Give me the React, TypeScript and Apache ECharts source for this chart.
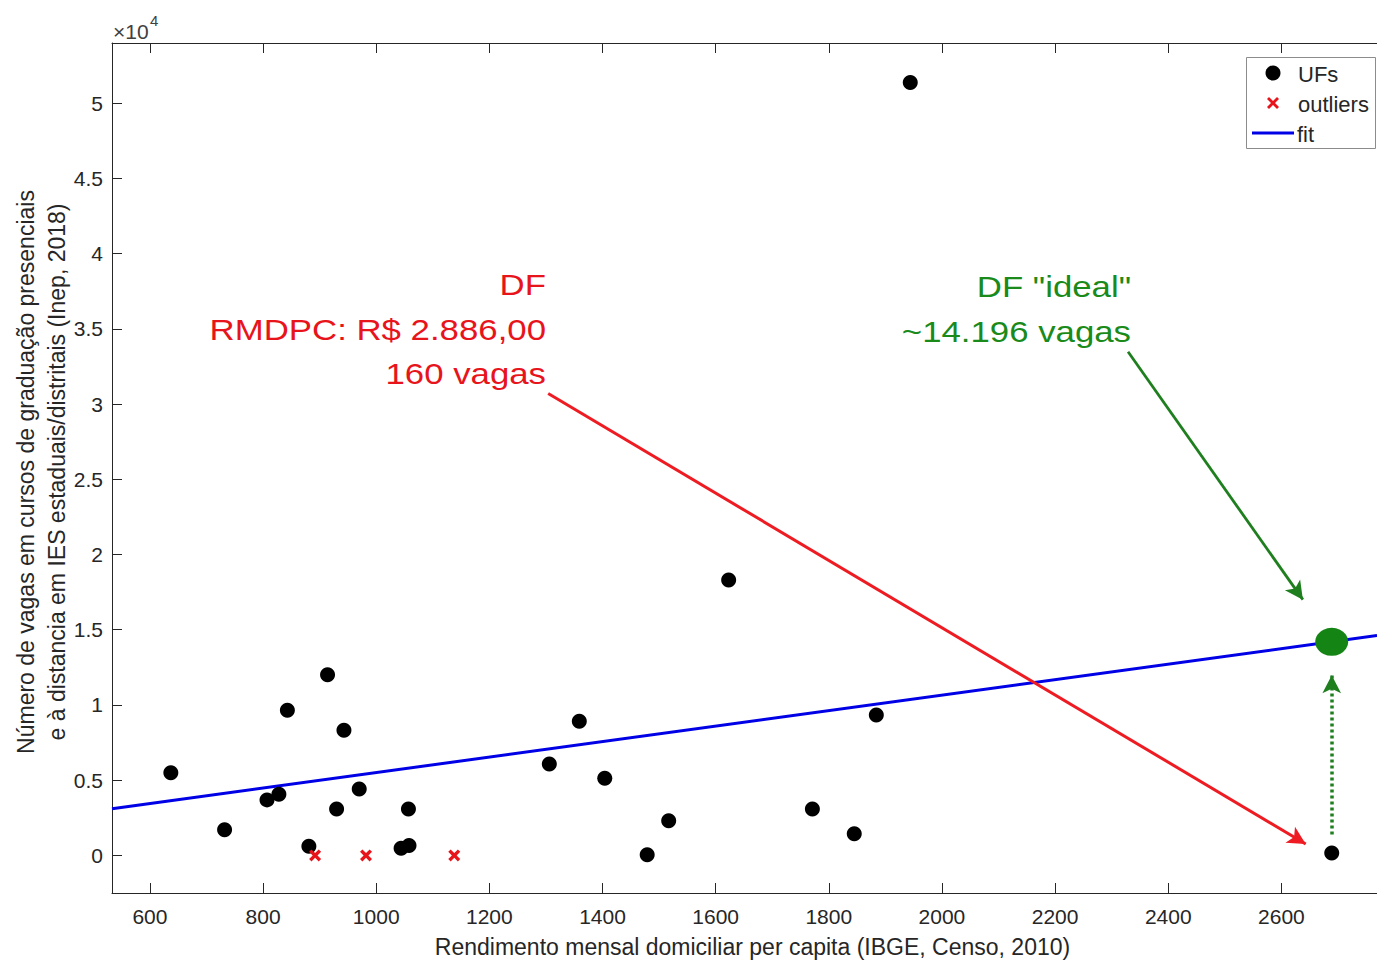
import React, { useEffect, useRef } from "react";
import * as echarts from "echarts";

// UFs (black dots): rendimento mensal domiciliar per capita vs. vagas
const ufX = [637, 732, 807, 828, 843, 881, 914, 930, 943, 970, 1044, 1058, 1057, 1306, 1359, 1404, 1479, 1517, 1623, 1771, 1845, 1884, 1944, 2689];
const ufY = [5490, 1700, 3690, 4060, 9640, 600, 12000, 3090, 8320, 4410, 480, 660, 3090, 6070, 8910, 5120, 50, 2300, 18310, 3090, 1440, 9330, 51370, 160];

// outliers (red crosses)
const outX = [892, 982, 1138];
const outY = [0, 0, 0];

// linear fit endpoints (axis limits)
const fitX = [533, 2769];
const fitY = [3100, 14610];

// DF "ideal" point
const idealX = [2689];
const idealY = [14196];

// annotation arrows [x0, y0, x1, y1] in data units
const redArrow = [1304, 30700, 2643, 760];
const greenArrow = [2329, 33480, 2638, 17000];
const dottedArrow = [2689, 1390, 2689, 11980];

const xTicks = [600, 800, 1000, 1200, 1400, 1600, 1800, 2000, 2200, 2400, 2600];
const yTicks = [0, 5000, 10000, 15000, 20000, 25000, 30000, 35000, 40000, 45000, 50000];

const FONT = "'Liberation Sans', Arial, Helvetica, sans-serif";
const AXIS = "#262626";
const RED = "#e8141c";
const GREEN = "#1a8a1a";

export default function App() {
  const ref = useRef<HTMLDivElement>(null);

  useEffect(() => {
    if (!ref.current) return;
    const chart = echarts.init(ref.current, null, { renderer: "svg" });

    const arrowLine = (a: number[], style: any) => [
      { coord: [a[0], a[1]], lineStyle: style },
      { coord: [a[2], a[3]] },
    ];

    const option: any = {
      animation: false,
      backgroundColor: "#ffffff",
      textStyle: { fontFamily: FONT },
      grid: { left: 112, top: 43, right: 0, bottom: 66, containLabel: false },
      xAxis: [
        {
          type: "value",
          min: 533,
          max: 2769,
          position: "bottom",
          name: "Rendimento mensal domiciliar per capita (IBGE, Censo, 2010)",
          nameLocation: "middle",
          nameGap: 42,
          nameTextStyle: { fontSize: 23, color: AXIS, fontFamily: FONT, padding: [0, 0, 0, 16] },
          splitLine: { show: false },
          axisLine: { show: true, onZero: false, lineStyle: { color: AXIS, width: 1 } },
          axisTick: { show: true, inside: true, length: 10, customValues: xTicks, lineStyle: { color: AXIS } },
          axisLabel: {
            show: true,
            margin: 13,
            fontSize: 21,
            color: AXIS,
            fontFamily: FONT,
            customValues: xTicks,
            formatter: (v: number) => String(v),
          },
        },
        {
          type: "value",
          min: 533,
          max: 2769,
          position: "top",
          splitLine: { show: false },
          axisLine: { show: true, onZero: false, lineStyle: { color: AXIS, width: 1 } },
          axisTick: { show: true, inside: true, length: 10, customValues: xTicks, lineStyle: { color: AXIS } },
          axisLabel: { show: false },
        },
      ],
      yAxis: [
        {
          type: "value",
          min: -2500,
          max: 54000,
          splitLine: { show: false },
          axisLine: { show: true, onZero: false, lineStyle: { color: AXIS, width: 1 } },
          axisTick: { show: true, inside: true, length: 10, customValues: yTicks, lineStyle: { color: AXIS } },
          axisLabel: {
            show: true,
            margin: 9,
            fontSize: 21,
            color: AXIS,
            fontFamily: FONT,
            customValues: yTicks,
            formatter: (v: number) => String(v / 10000),
          },
        },
      ],
      series: [
        {
          name: "fit",
          type: "line",
          data: fitX.map((x, i) => [x, fitY[i]]),
          showSymbol: false,
          symbol: "none",
          lineStyle: { color: "#0000e6", width: 3 },
          z: 2,
        },
        {
          name: "UFs",
          type: "scatter",
          data: ufX.map((x, i) => [x, ufY[i]]),
          symbol: "circle",
          symbolSize: 15,
          itemStyle: { color: "#000000", opacity: 1 },
          z: 3,
        },
        {
          name: "outliers",
          type: "scatter",
          data: outX.map((x, i) => [x, outY[i]]),
          symbol: "path://M0,2L2,0L5,3L8,0L10,2L7,5L10,8L8,10L5,7L2,10L0,8L3,5Z",
          symbolSize: 12,
          itemStyle: { color: RED, opacity: 1 },
          z: 3,
        },
        {
          name: "DF ideal",
          type: "scatter",
          data: idealX.map((x, i) => [x, idealY[i]]),
          symbol: "circle",
          symbolSize: [33, 28],
          itemStyle: { color: "#148414", opacity: 1 },
          z: 4,
          markLine: {
            silent: true,
            symbol: ["none", "arrow"],
            symbolSize: [14, 18],
            label: { show: false },
            emphasis: { disabled: true },
            data: [
              arrowLine(redArrow, { color: "#ee1c22", width: 3, type: "solid" }),
              arrowLine(greenArrow, { color: "#1f7f1f", width: 2.8, type: "solid" }),
              arrowLine(dottedArrow, { color: "#1f7f1f", width: 3.5, type: [3, 3] }),
            ],
          },
        },
      ],
      graphic: [
        // x10^4 exponent label
        { type: "text", x: 113, y: 31, style: { text: "×10", font: `21px ${FONT}`, fill: "#404040", textVerticalAlign: "middle" } },
        { type: "text", x: 150, y: 20, style: { text: "4", font: `15px ${FONT}`, fill: "#404040", textVerticalAlign: "middle" } },
        // y axis title
        {
          type: "text",
          x: 41,
          y: 472,
          rotation: Math.PI / 2,
          style: {
            text: "Número de vagas em cursos de graduação presenciais\ne à distancia em IES estaduais/distritais (Inep, 2018)",
            font: `23px ${FONT}`,
            lineHeight: 31,
            fill: AXIS,
            textAlign: "center",
            textVerticalAlign: "middle",
          },
        },
        // red annotation
        { type: "text", x: 546, y: 285, scaleX: 1.2, style: { text: "DF", font: `29px ${FONT}`, fill: RED, textAlign: "right", textVerticalAlign: "middle" } },
        { type: "text", x: 546, y: 330, scaleX: 1.2, style: { text: "RMDPC: R$ 2.886,00", font: `29px ${FONT}`, fill: RED, textAlign: "right", textVerticalAlign: "middle" } },
        { type: "text", x: 546, y: 374, scaleX: 1.2, style: { text: "160 vagas", font: `29px ${FONT}`, fill: RED, textAlign: "right", textVerticalAlign: "middle" } },
        // green annotation
        { type: "text", x: 1131, y: 287, scaleX: 1.2, style: { text: 'DF "ideal"', font: `29px ${FONT}`, fill: GREEN, textAlign: "right", textVerticalAlign: "middle" } },
        { type: "text", x: 1131, y: 332, scaleX: 1.2, style: { text: "~14.196 vagas", font: `29px ${FONT}`, fill: GREEN, textAlign: "right", textVerticalAlign: "middle" } },
        // legend
        {
          type: "group",
          children: [
            { type: "rect", shape: { x: 1246.5, y: 57.5, width: 129, height: 91 }, style: { fill: "#ffffff", stroke: "#8c8c8c", lineWidth: 1 } },
            { type: "circle", shape: { cx: 1273, cy: 73, r: 7.5 }, style: { fill: "#000000" } },
            { type: "line", shape: { x1: 1268, y1: 98, x2: 1278, y2: 108 }, style: { stroke: RED, lineWidth: 2.8 } },
            { type: "line", shape: { x1: 1278, y1: 98, x2: 1268, y2: 108 }, style: { stroke: RED, lineWidth: 2.8 } },
            { type: "line", shape: { x1: 1252, y1: 133, x2: 1294, y2: 133 }, style: { stroke: "#0000e6", lineWidth: 3 } },
            { type: "text", x: 1298, y: 74, style: { text: "UFs", font: `22px ${FONT}`, fill: AXIS, textVerticalAlign: "middle" } },
            { type: "text", x: 1298, y: 104, style: { text: "outliers", font: `22px ${FONT}`, fill: AXIS, textVerticalAlign: "middle" } },
            { type: "text", x: 1297, y: 134, style: { text: "fit", font: `22px ${FONT}`, fill: AXIS, textVerticalAlign: "middle" } },
          ],
          z: 100,
        },
      ],
    };

    chart.setOption(option);
    return () => chart.dispose();
  }, []);

  return (
    <div style={{ position: "absolute", left: 0, top: 0, width: 1377, height: 963, background: "#fff" }}>
      <div ref={ref} style={{ width: 1377, height: 963 }} />
    </div>
  );
}
